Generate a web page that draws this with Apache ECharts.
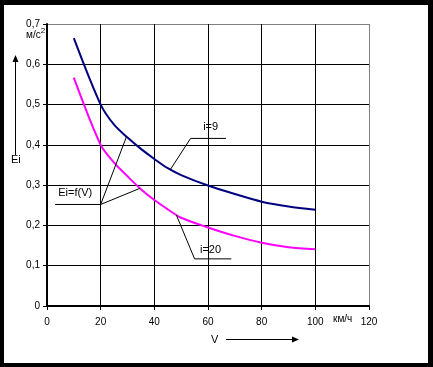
<!DOCTYPE html>
<html><head><meta charset="utf-8">
<script src="https://cdn.jsdelivr.net/npm/echarts@6/dist/echarts.min.js"></script>
<style>html,body{margin:0;padding:0;background:#000}#c{width:433px;height:367px}</style>
</head><body><div id="c"></div>
<script>
var xValues = [10, 20, 25, 30, 35, 40, 45, 50, 60, 70, 80, 90, 100];
var blueI9 = [0.665, 0.50, 0.45, 0.418, 0.39, 0.365, 0.342, 0.325, 0.299, 0.278, 0.259, 0.247, 0.239];
var magentaI20 = [0.567, 0.40, 0.356, 0.322, 0.29, 0.263, 0.24, 0.219, 0.195, 0.174, 0.157, 0.146, 0.141];
var xTicks = [0, 20, 40, 60, 80, 100, 120];
var yTicks = [0, 0.1, 0.2, 0.3, 0.4, 0.5, 0.6, 0.7];

var FONT = 'Liberation Sans';
var chart = echarts.init(document.getElementById('c'), null, {renderer: 'canvas'});
function pairs(xs, ys){ return xs.map(function(x,i){return [x, ys[i]];}); }

var option = {
  backgroundColor: '#000',
  animation: false,
  grid: {left: 47, top: 24, right: 64, bottom: 61},
  xAxis: {
    type: 'value', min: 0, max: 120, interval: 20,
    axisLine: {show: true, onZero: false, lineStyle: {color: '#000', width: 2}},
    axisTick: {show: true, length: 4, lineStyle: {color: '#000', width: 1}},
    axisLabel: {color: '#000', fontFamily: FONT, fontSize: 10, margin: 11},
    splitLine: {show: true, lineStyle: {color: ['#000','#000','#000','#000','#000','#000','#808080'], width: 1}}
  },
  yAxis: {
    type: 'value', min: 0, max: 0.7, interval: 0.1,
    axisLine: {show: true, lineStyle: {color: '#000', width: 2}},
    axisTick: {show: true, length: 4, lineStyle: {color: '#000', width: 1}},
    axisLabel: {color: '#000', fontFamily: FONT, fontSize: 10, margin: 7,
      formatter: function(v){ return (Math.round(v*10)/10).toString().replace('.', ','); }},
    splitLine: {show: true, lineStyle: {color: ['#000','#000','#000','#000','#000','#000','#000','#808080'], width: 1}}
  },
  series: [
    {type: 'line', name: 'i=9', data: pairs(xValues, blueI9), smooth: 0.3, showSymbol: false,
     lineStyle: {color: '#000080', width: 2}, z: 3},
    {type: 'line', name: 'i=20', data: pairs(xValues, magentaI20), smooth: 0.3, showSymbol: false,
     lineStyle: {color: '#ff00ff', width: 2}, z: 3}
  ]
};
chart.setOption(option);

function P(x, y){ return chart.convertToPixel({gridIndex: 0}, [x, y]); }
function poly(pts){ return {type: 'polyline', shape: {points: pts.map(function(p){return P(p[0], p[1]);})},
  style: {stroke: '#000', lineWidth: 1, fill: null}, z: 10}; }
function txt(x, y, s, align, size){ var p = P(x, y); return {type: 'text', x: p[0], y: p[1], z: 10,
  style: {text: s, fill: '#000', font: (size||11) + 'px "' + FONT + '"', textAlign: align || 'left', textVerticalAlign: 'middle'}}; }

var graphics = [
  {type: 'rect', shape: {x: 4, y: 5, width: 424, height: 358}, style: {fill: '#fff'}, z: -100, silent: true},
  poly([[45.9, 0.338], [53.5, 0.416], [66.7, 0.416]]),
  txt(58.2, 0.445, 'i=9'),
  poly([[48.2, 0.226], [55.0, 0.117], [68.7, 0.117]]),
  txt(57.0, 0.139, 'i=20'),
  poly([[3.0, 0.252], [20, 0.252], [29.6, 0.42]]),
  poly([[20, 0.252], [34.6, 0.292]]),
  txt(4.2, 0.28, 'Ei=f(V)'),
  {type: 'text', x: 26, y: 35, z: 10, style: {text: 'м/с{s|2}', fill: '#000', font: '10px "' + FONT + '"',
    textVerticalAlign: 'middle', rich: {s: {fontSize: 8, verticalAlign: 'top', padding: [0,0,8,0], fill: '#000'}}}},
  {type: 'text', x: 333, y: 319, z: 10, style: {text: 'км/ч', fill: '#000', font: '10px "' + FONT + '"', textVerticalAlign: 'middle'}},
  {type: 'text', x: 211, y: 340, z: 10, style: {text: 'V', fill: '#000', font: '11px "' + FONT + '"', textVerticalAlign: 'middle'}},
  {type: 'line', shape: {x1: 226, y1: 339.5, x2: 297, y2: 339.5}, style: {stroke: '#000', lineWidth: 1}, z: 10},
  {type: 'polygon', shape: {points: [[299, 339.5], [292, 336.5], [292, 342.5]]}, style: {fill: '#000'}, z: 10},
  {type: 'line', shape: {x1: 15.5, y1: 155, x2: 15.5, y2: 60}, style: {stroke: '#000', lineWidth: 1}, z: 10},
  {type: 'polygon', shape: {points: [[15.5, 55], [12.5, 62], [18.5, 62]]}, style: {fill: '#000'}, z: 10},
  {type: 'text', x: 11, y: 160, z: 10, style: {text: 'Ei', fill: '#000', font: '11px "' + FONT + '"', textVerticalAlign: 'middle'}}
];
chart.setOption({graphic: graphics});
</script></body></html>
